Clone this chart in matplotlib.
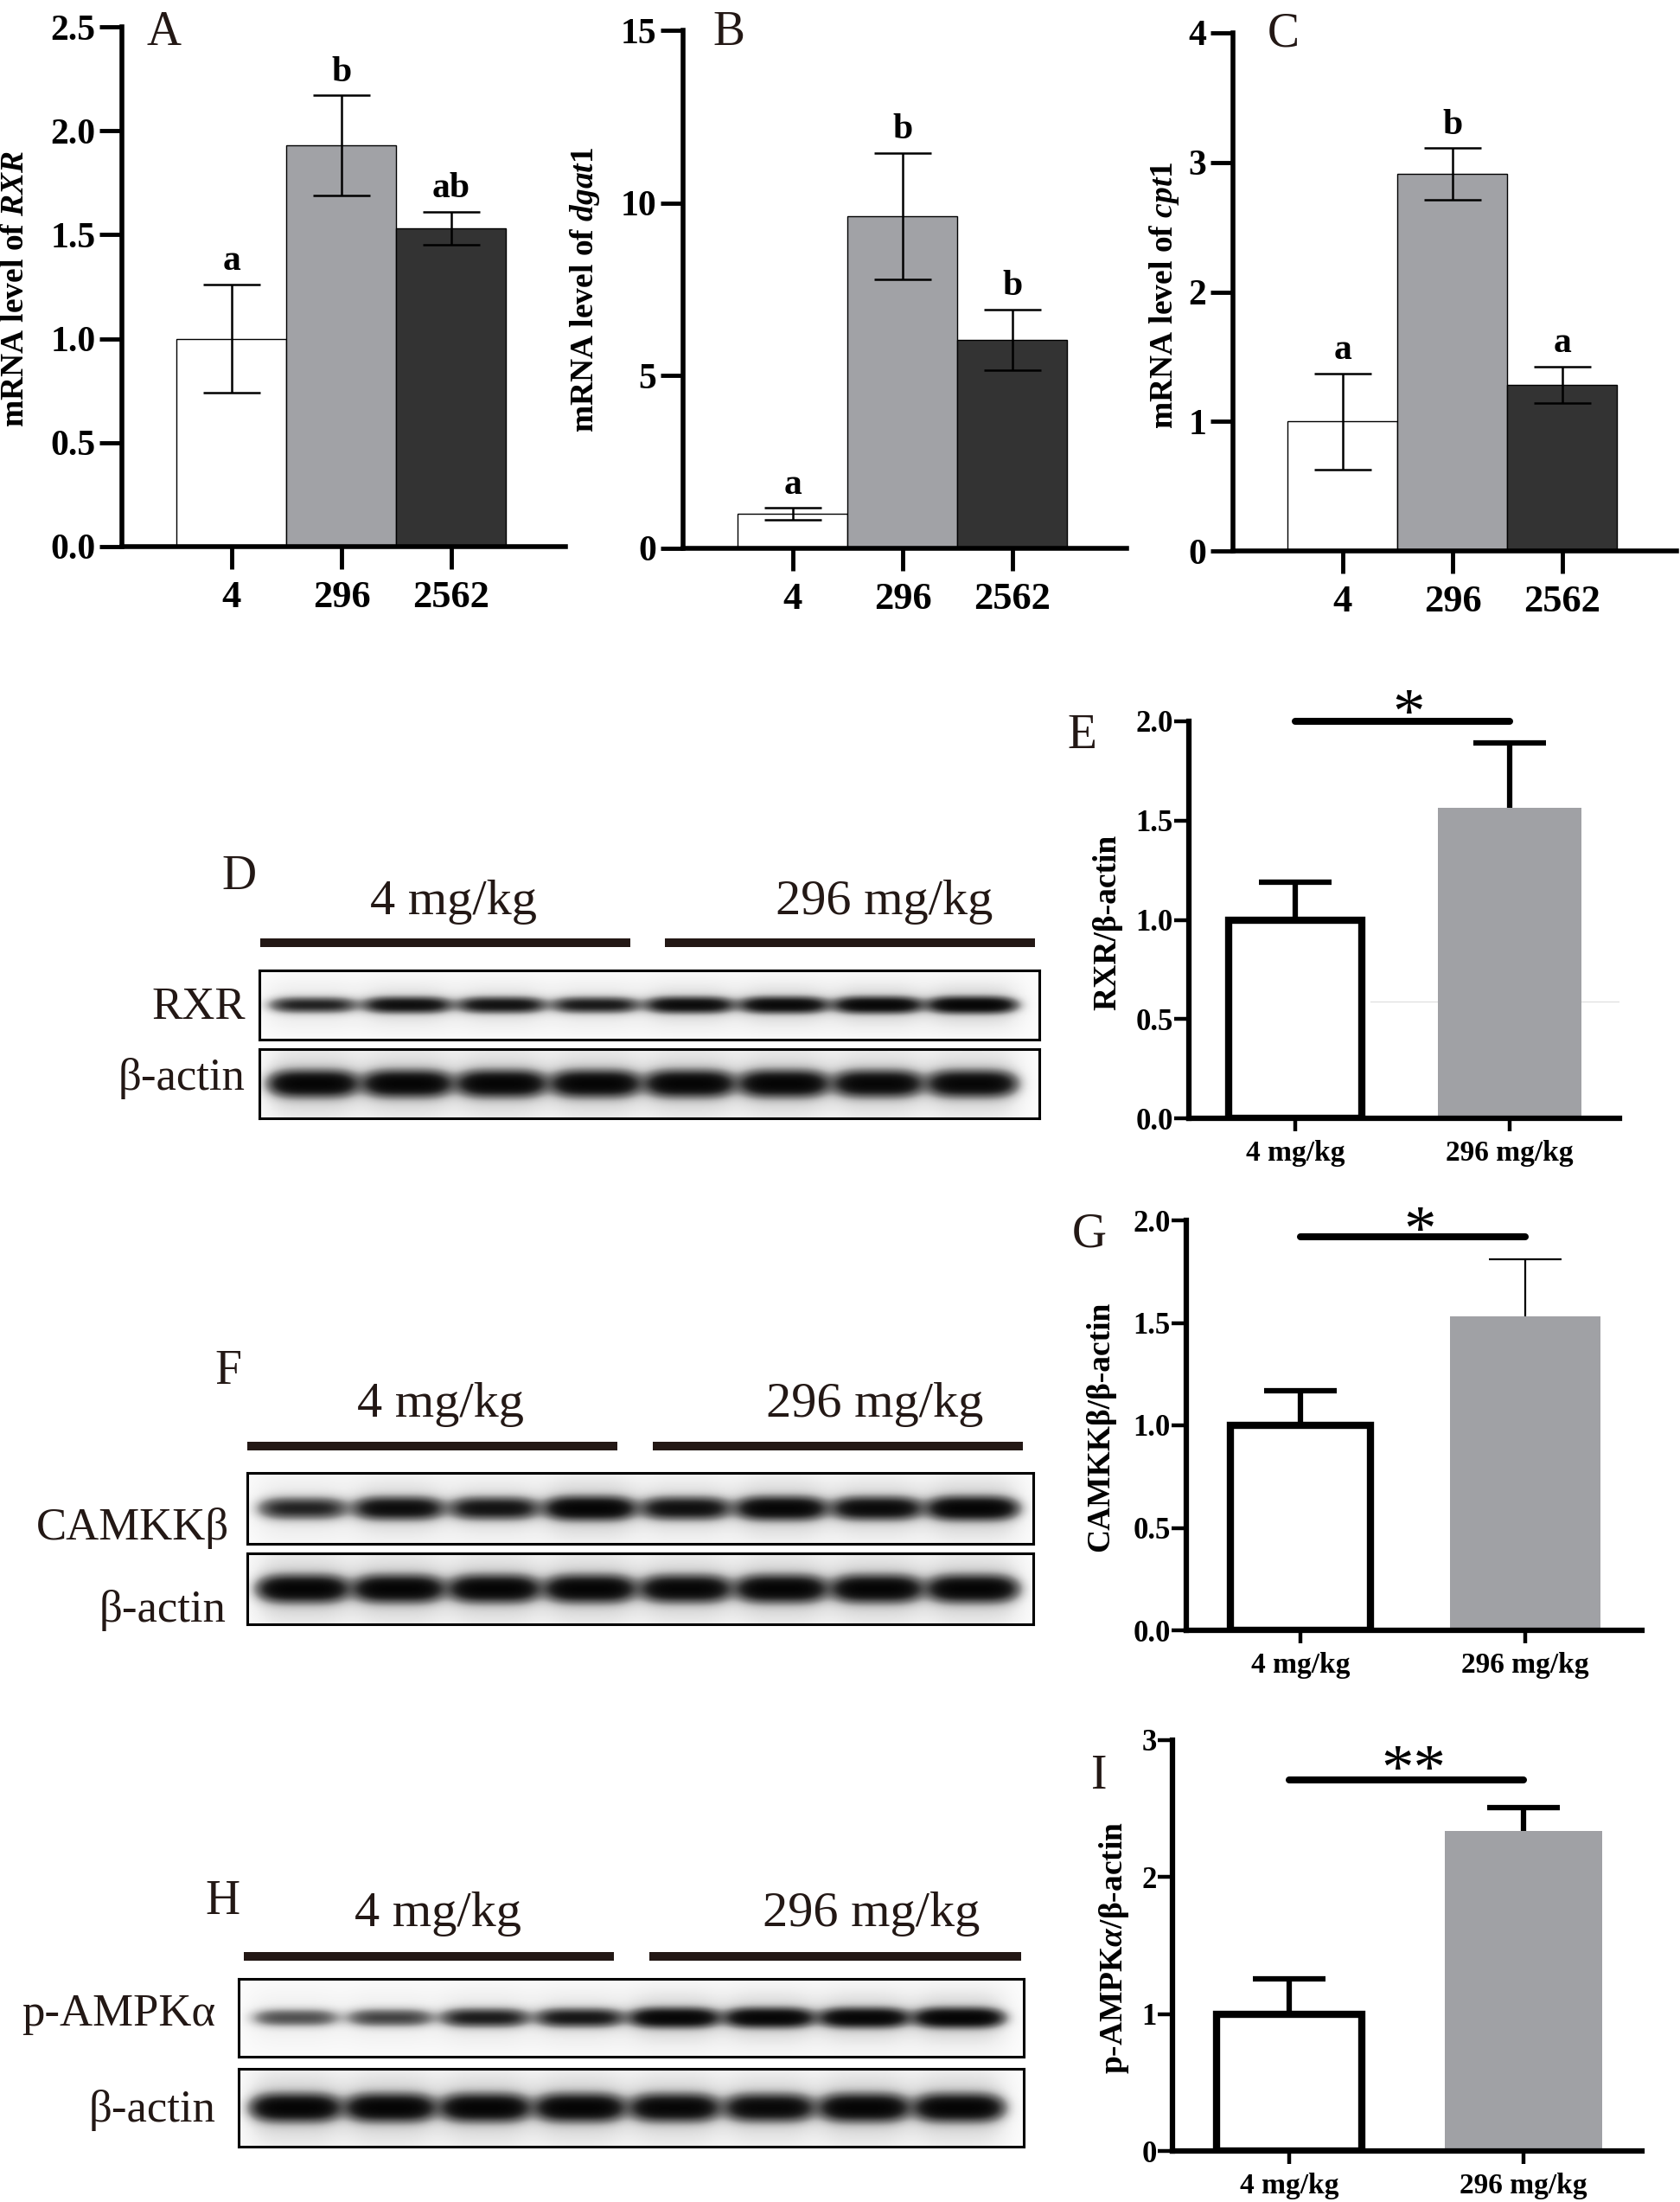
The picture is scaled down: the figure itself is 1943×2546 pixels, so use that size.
import numpy as np
import matplotlib
matplotlib.use("Agg")
import matplotlib.pyplot as plt

plt.rcParams['font.family'] = ['Liberation Serif', 'DejaVu Serif']
plt.rcParams['mathtext.fontset'] = 'custom'
plt.rcParams['mathtext.it'] = 'Liberation Serif:italic:bold'
plt.rcParams['mathtext.rm'] = 'Liberation Serif:bold'

# ---------------- data ----------------
doses = ['4', '296', '2562']
rxr_mrna = [1.00, 1.93, 1.53]
rxr_mrna_se = [0.26, 0.24, 0.08]
rxr_mrna_sig = ['a', 'b', 'ab']
dgat1_mrna = [1.00, 9.62, 6.04]
dgat1_mrna_se = [0.17, 1.83, 0.87]
dgat1_mrna_sig = ['a', 'b', 'b']
cpt1_mrna = [1.00, 2.91, 1.285]
cpt1_mrna_se = [0.37, 0.20, 0.14]
cpt1_mrna_sig = ['a', 'b', 'a']

wb_groups = ['4 mg/kg', '296 mg/kg']
rxr_ratio = [1.00, 1.565]
rxr_ratio_se = [0.19, 0.325]
camkkb_ratio = [1.00, 1.53]
camkkb_ratio_se = [0.17, 0.28]
pampk_ratio = [1.00, 2.34]
pampk_ratio_se = [0.26, 0.17]

# relative band intensity, lanes 1-4 = 4 mg/kg, lanes 5-8 = 296 mg/kg
rxr_bands = [0.55, 0.75, 0.70, 0.62, 0.80, 0.85, 0.90, 0.95]
actin_d_bands = [1.0, 1.0, 1.0, 1.0, 1.0, 1.0, 0.95, 0.95]
camkkb_bands = [0.55, 0.80, 0.70, 1.00, 0.75, 0.95, 0.85, 1.00]
actin_f_bands = [1.0, 1.0, 1.0, 1.0, 0.95, 1.0, 1.0, 1.0]
pampk_bands = [0.35, 0.40, 0.60, 0.65, 0.95, 0.95, 0.95, 1.00]
actin_h_bands = [1.0, 1.0, 1.0, 1.0, 0.95, 0.9, 1.0, 1.0]

W, H = 1943, 2546
fig = plt.figure(figsize=(W / 100, H / 100), dpi=100)
ink = '#231815'
bar_cols = ['white', '#a1a2a6', '#333333']


def rect(l, t, r, b):
    return [l / W, 1 - b / H, (r - l) / W, (b - t) / H]


def ftext(x, y, s, **kw):
    fig.text(x / W, 1 - y / H, s, **kw)


# ---------------- A-C: mRNA bar charts ----------------
def mrna_panel(px, vals, se, sig, ymax, step, fmt, ylab, ylab_xy, letter, letter_xy):
    ax = fig.add_axes(rect(*px))
    x = np.arange(len(vals))
    ax.bar(x, vals, width=1.0, color=bar_cols, edgecolor='black', linewidth=1.0, zorder=2)
    ax.errorbar(x, vals, yerr=se, fmt='none', ecolor='black', elinewidth=1.8,
                capsize=23.5, capthick=1.8, zorder=3)
    for xi, v, e, s in zip(x, vals, se, sig):
        ax.text(xi, v + e + 0.028 * ymax, s, ha='center', va='baseline',
                fontsize=30, fontweight='bold')
    ax.set_xlim(-1.0, 3.04)
    ax.set_ylim(0, ymax)
    ticks = np.arange(0, ymax + step / 2, step)
    ax.set_yticks(ticks)
    ax.set_yticklabels([fmt % t for t in ticks])
    ax.set_xticks(x)
    ax.set_xticklabels(doses)
    for side in ['top', 'right']:
        ax.spines[side].set_visible(False)
    for side in ['left', 'bottom']:
        ax.spines[side].set_linewidth(4)
    ax.tick_params(axis='y', length=19, width=3.5, pad=3, labelsize=30)
    ax.tick_params(axis='x', length=19, width=3.5, pad=9, labelsize=32)
    for t in ax.get_xticklabels() + ax.get_yticklabels():
        t.set_fontweight('bold')
    ftext(ylab_xy[0], ylab_xy[1], ylab, rotation=90, ha='center', va='center',
          fontsize=27, fontweight='bold')
    ftext(letter_xy[0], letter_xy[1], letter, ha='center', va='baseline', fontsize=40, color=ink)
    return ax


mrna_panel((141, 31, 654, 632), rxr_mrna, rxr_mrna_se, rxr_mrna_sig, 2.5, 0.5, '%.1f',
           'mRNA level of $\\mathit{RXR}$', (18, 334), 'A', (190, 52))
mrna_panel((790, 35, 1303, 634), dgat1_mrna, dgat1_mrna_se, dgat1_mrna_sig, 15, 5, '%d',
           'mRNA level of $\\mathit{dgat1}$', (677, 335), 'B', (843, 52))
mrna_panel((1426, 38, 1939, 637), cpt1_mrna, cpt1_mrna_se, cpt1_mrna_sig, 4, 1, '%d',
           'mRNA level of $\\mathit{cpt1}$', (1347, 341), 'C', (1484, 54))


# ---------------- E, G, I: western blot quantification ----------------
def up_err(ax, x, v, e, lw):
    eb = ax.errorbar(x, v, yerr=[[0], [e]], fmt='none', ecolor='black',
                     elinewidth=lw, capsize=30, capthick=lw, zorder=3)
    for cap in eb[1]:
        if np.allclose(cap.get_ydata(), v):
            cap.set_visible(False)


def wb_panel(px, xlim, vals, se, ymax, step, fmt, sig_y, stars, star_y,
             ylab, ylab_xy, letter, letter_xy, gray_err_lw=4.5):
    ax = fig.add_axes(rect(*px))
    x = np.arange(2)
    ax.bar(x[0], vals[0], width=0.62, color='white', edgecolor='black', linewidth=6, zorder=2)
    ax.bar(x[1], vals[1], width=0.67, color='#a0a1a5', edgecolor='none', zorder=2)
    up_err(ax, x[0], vals[0], se[0], 4.5)
    up_err(ax, x[1], vals[1], se[1], gray_err_lw)
    ax.plot([0, 1], [sig_y, sig_y], color='black', lw=5.8, solid_capstyle='round', clip_on=False)
    ax.text(0.53, star_y, stars, ha='center', va='center', fontsize=54, clip_on=False)
    ax.set_xlim(*xlim)
    ax.set_ylim(0, ymax)
    ticks = np.arange(0, ymax + step / 2, step)
    ax.set_yticks(ticks)
    ax.set_yticklabels([fmt % t for t in ticks])
    ax.set_xticks(x)
    ax.set_xticklabels(wb_groups)
    for side in ['top', 'right']:
        ax.spines[side].set_visible(False)
    for side in ['left', 'bottom']:
        ax.spines[side].set_linewidth(4.5)
    ax.tick_params(axis='y', length=12, width=3.2, pad=1, labelsize=25)
    ax.tick_params(axis='x', length=11, width=3.2, pad=7, labelsize=24)
    for t in ax.get_xticklabels() + ax.get_yticklabels():
        t.set_fontweight('bold')
    ftext(ylab_xy[0], ylab_xy[1], ylab, rotation=90, ha='center', va='center',
          fontsize=27, fontweight='bold')
    ftext(letter_xy[0], letter_xy[1], letter, ha='center', va='baseline', fontsize=40, color=ink)
    return ax


axE = wb_panel((1375, 834, 1873, 1293), (-0.496, 1.512), rxr_ratio, rxr_ratio_se, 2.0, 0.5, '%.1f',
               2.0, '*', 2.02, 'RXR/β-actin', (1281, 1066), 'E', (1251, 865))
axE.plot([0.35, 1.51], [0.59, 0.59], color='#dcdcdc', lw=0.8, zorder=1)
wb_panel((1372, 1411, 1899, 1885), (-0.508, 1.52), camkkb_ratio, camkkb_ratio_se, 2.0, 0.5, '%.1f',
         1.92, '*', 1.93, 'CAMKKβ/β-actin', (1273, 1649), 'G', (1260, 1442), gray_err_lw=1.6)
wb_panel((1356, 2012, 1899, 2487), (-0.498, 1.505), pampk_ratio, pampk_ratio_se, 3, 1, '%d',
         2.71, '**', 2.76, 'p-AMPK$\\mathit{α}$/β-actin', (1288, 2252), 'I', (1271, 2068))


# ---------------- D, F, H: blot images ----------------
def blot(px, bands, half_h, xlim):
    ax = fig.add_axes(rect(*px))
    xs = np.linspace(xlim[0], xlim[1], 900)
    ys = np.linspace(-0.5, 0.5, 160)
    X, Y = np.meshgrid(xs, ys)
    dens = np.zeros_like(X)
    for lane, v in enumerate(bands):
        dens += v * np.exp(-np.abs((X - lane) / 0.43) ** 4) * np.exp(-(Y / half_h) ** 2)
        dens += 0.10 * v * np.exp(-np.abs((X - lane) / 0.5) ** 4) * np.exp(-(Y / (3.5 * half_h)) ** 2)
    img = 1 - np.exp(-3.5 * dens)
    ax.imshow(img, extent=[xlim[0], xlim[1], -0.5, 0.5], origin='lower', aspect='auto',
              cmap='Greys', vmin=-0.025, vmax=1.0, interpolation='bilinear')
    ax.set_xlim(*xlim)
    ax.set_ylim(-0.5, 0.5)
    ax.set_xticks([])
    ax.set_yticks([])
    for s in ax.spines.values():
        s.set_linewidth(2.2)
    return ax


def blot_panel(top_px, bot_px, xlim, bands_top, h_top, bands_bot, h_bot,
               name, name_px, actin_px, line_y, lines_x, label_y, label_x, letter, letter_xy):
    blot(top_px, bands_top, h_top, xlim)
    blot(bot_px, bands_bot, h_bot, xlim)
    ftext(name_px[0], name_px[1], name, ha='right', va='baseline', fontsize=38, color=ink)
    ftext(actin_px[0], actin_px[1], 'β-actin', ha='right', va='baseline', fontsize=38, color=ink)
    for (x0, x1) in lines_x:
        fig.add_artist(plt.Line2D([x0 / W, x1 / W], [1 - line_y / H] * 2, color=ink, lw=7.2,
                                  solid_capstyle='butt'))
    for lx, lab in zip(label_x, wb_groups):
        ftext(lx, label_y, lab, ha='center', va='baseline', fontsize=42, color=ink)
    ftext(letter_xy[0], letter_xy[1], letter, ha='center', va='baseline', fontsize=40, color=ink)


blot_panel((300, 1122, 1202, 1202), (300, 1213, 1202, 1293), (-0.57, 7.71),
           rxr_bands, 0.095, actin_d_bands, 0.15,
           'RXR', (284, 1178), (284, 1260), 1090, [(301, 729), (769, 1197)],
           1057, [525, 1023], 'D', (276, 1028))
blot_panel((286, 1703, 1195, 1785), (286, 1796, 1195, 1878), (-0.58, 7.63),
           camkkb_bands, 0.13, actin_f_bands, 0.15,
           'CAMKKβ', (265, 1780), (261, 1875), 1672, [(286, 714), (755, 1183)],
           1638, [510, 1012], 'F', (264, 1600))
blot_panel((276, 2288, 1184, 2378), (276, 2392, 1184, 2482), (-0.6, 7.68),
           pampk_bands, 0.10, actin_h_bands, 0.14,
           'p-AMPKα', (249, 2342), (249, 2453), 2262, [(282, 710), (751, 1181)],
           2227, [506, 1008], 'H', (257, 2213))

fig.savefig('out.png', dpi=100)
